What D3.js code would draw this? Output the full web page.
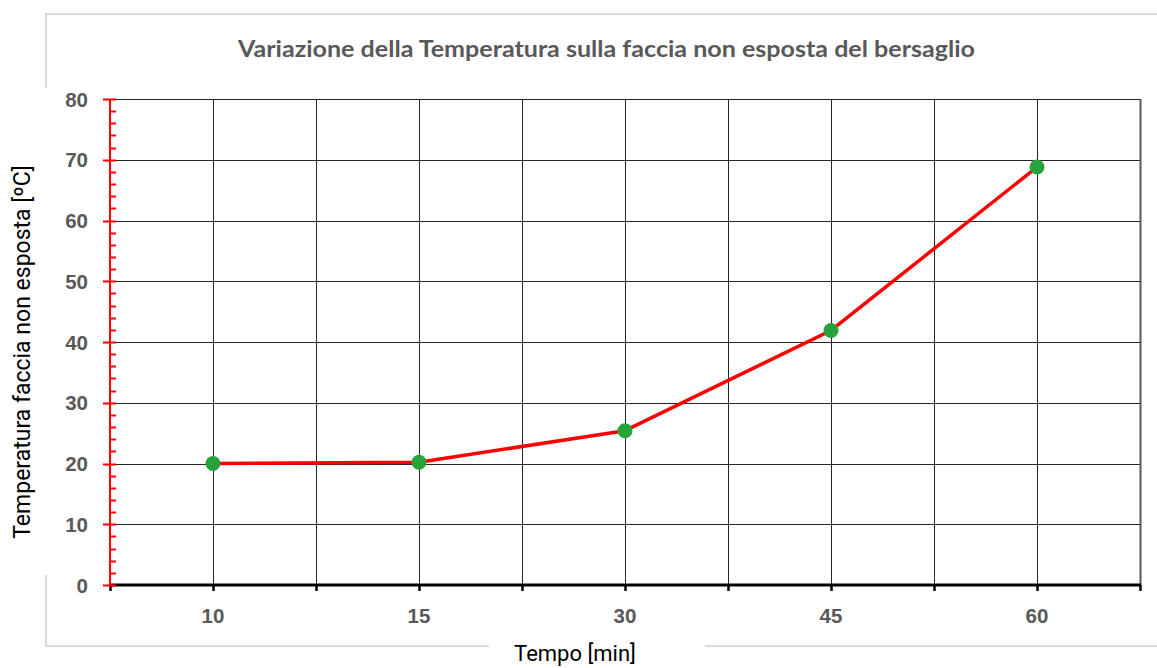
<!DOCTYPE html>
<html>
<head>
<meta charset="utf-8">
<script src="https://cdn.jsdelivr.net/npm/d3@7/dist/d3.min.js"></script>
<style>
  html, body { margin: 0; padding: 0; background: #fff; }
  svg { display: block; }
</style>
</head>
<body>
<svg id="chart" width="1157" height="668"></svg>
<script>
// ---- Data ----
const categories = ["10", "15", "30", "45", "60"];
const temperatures = [20.0, 20.2, 25.4, 41.9, 68.8];
const yTicks = [0, 10, 20, 30, 40, 50, 60, 70, 80];
const titleText = "Variazione della Temperatura sulla faccia non esposta del bersaglio";
const yTitle = "Temperatura faccia non esposta  [ºC]";
const xTitle = "Tempo [min]";

// ---- Layout ----
const W = 1157, H = 668;
const plot = { left: 110, right: 1140, top: 99, bottom: 585 };
const svg = d3.select("#chart");

svg.append("rect").attr("width", W).attr("height", H).attr("fill", "#fff");

// Outer chart border (light gray) with gaps
const borderColor = "#d9d9d9";
const border = svg.append("g").attr("stroke", borderColor).attr("stroke-width", 2).attr("fill", "none");
border.append("path").attr("d", `M46,88 L46,14 L1157,14`);
border.append("path").attr("d", `M46,575 L46,646 L489,646`);
border.append("path").attr("d", `M705,646 L1157,646`);

// Scales
const x = d3.scaleBand().domain(categories).range([plot.left, plot.right]).paddingInner(0).paddingOuter(0);
const y = d3.scaleLinear().domain([0, 80]).range([plot.bottom, plot.top]);
const bw = x.bandwidth();

// Gridlines - horizontal
const grid = svg.append("g");
grid.selectAll("line.h").data(yTicks.filter(d => d > 0)).join("line")
  .attr("x1", plot.left).attr("x2", plot.right)
  .attr("y1", d => Math.round(y(d)) + 0.5).attr("y2", d => Math.round(y(d)) + 0.5)
  .attr("stroke", "#262626").attr("stroke-width", 1);

// Gridlines - vertical at band centers and band edges
const vPositions = [];
categories.forEach(c => { vPositions.push(x(c) + bw / 2); vPositions.push(x(c) + bw); });
grid.selectAll("line.v").data(vPositions).join("line")
  .attr("x1", d => Math.round(d) + 0.5).attr("x2", d => Math.round(d) + 0.5)
  .attr("y1", plot.top).attr("y2", plot.bottom)
  .attr("stroke", d => Math.abs(d - plot.right) < 1 ? "#595959" : "#262626")
  .attr("stroke-width", d => Math.abs(d - plot.right) < 1 ? 2 : 1);

// X axis line and ticks
const xTickPos = [plot.left].concat(vPositions);
svg.append("g").selectAll("line").data(xTickPos).join("line")
  .attr("x1", d => Math.round(d) + 0.5).attr("x2", d => Math.round(d) + 0.5)
  .attr("y1", plot.bottom).attr("y2", plot.bottom + 6)
  .attr("stroke", "#000").attr("stroke-width", 2.5);
svg.append("line")
  .attr("x1", plot.left).attr("x2", plot.right + 1)
  .attr("y1", plot.bottom).attr("y2", plot.bottom)
  .attr("stroke", "#000").attr("stroke-width", 3);

// X tick labels
svg.append("g").selectAll("text").data(categories).join("text")
  .attr("x", d => x(d) + bw / 2)
  .attr("y", 623)
  .attr("text-anchor", "middle")
  .attr("font-family", "'Liberation Sans', Arial, sans-serif")
  .attr("font-weight", "bold")
  .attr("font-size", 20.5)
  .attr("fill", "#595959")
  .text(d => d);

// Y axis (red) with major and minor ticks
const yAxisG = svg.append("g");
const minorTicks = d3.range(0, 81, 2).filter(v => v % 10 !== 0);
yAxisG.selectAll("line.minor").data(minorTicks).join("line")
  .attr("x1", plot.left).attr("x2", plot.left + 6)
  .attr("y1", d => Math.round(y(d)) + 0.5).attr("y2", d => Math.round(y(d)) + 0.5)
  .attr("stroke", "#ff0000").attr("stroke-width", 2);
yAxisG.selectAll("line.major").data(yTicks).join("line")
  .attr("x1", plot.left - 7).attr("x2", plot.left + 6)
  .attr("y1", d => Math.round(y(d)) + 0.5).attr("y2", d => Math.round(y(d)) + 0.5)
  .attr("stroke", "#ff0000").attr("stroke-width", 2);
yAxisG.append("line")
  .attr("x1", plot.left).attr("x2", plot.left)
  .attr("y1", plot.top).attr("y2", plot.bottom)
  .attr("stroke", "#ff0000").attr("stroke-width", 2);

// Y tick labels
svg.append("g").selectAll("text").data(yTicks).join("text")
  .attr("x", 88)
  .attr("y", d => y(d) + 7.5)
  .attr("text-anchor", "end")
  .attr("font-family", "'Liberation Sans', Arial, sans-serif")
  .attr("font-weight", "bold")
  .attr("font-size", 20.5)
  .attr("fill", "#595959")
  .text(d => d);

// Line series
const pts = categories.map((c, i) => ({ c, v: temperatures[i] }));
const line = d3.line().x(d => x(d.c) + bw / 2).y(d => y(d.v));
svg.append("path").datum(pts)
  .attr("d", line)
  .attr("fill", "none")
  .attr("stroke", "#ff0000")
  .attr("stroke-width", 3.5)
  .attr("stroke-linejoin", "round");

svg.append("g").selectAll("circle").data(pts).join("circle")
  .attr("cx", d => x(d.c) + bw / 2)
  .attr("cy", d => y(d.v))
  .attr("r", 7.5)
  .attr("fill", "#28a33c");

// Title
svg.append("text")
  .attr("x", 606.5).attr("y", 57)
  .attr("text-anchor", "middle")
  .attr("font-family", "Lato, 'Open Sans', sans-serif")
  .attr("font-weight", "bold")
  .attr("font-size", 22)
  .attr("fill", "#595959")
  .attr("textLength", 737)
  .attr("lengthAdjust", "spacingAndGlyphs")
  .text(titleText);

// Y title
svg.append("text")
  .attr("transform", "translate(30,352) rotate(-90)")
  .attr("text-anchor", "middle")
  .attr("font-family", "Roboto, sans-serif")
  .attr("font-size", 23)
  .attr("fill", "#000")
  .text(yTitle);

// X title
svg.append("text")
  .attr("x", 575).attr("y", 661)
  .attr("text-anchor", "middle")
  .attr("font-family", "Roboto, sans-serif")
  .attr("font-size", 22)
  .attr("fill", "#000")
  .text(xTitle);
</script>
</body>
</html>
